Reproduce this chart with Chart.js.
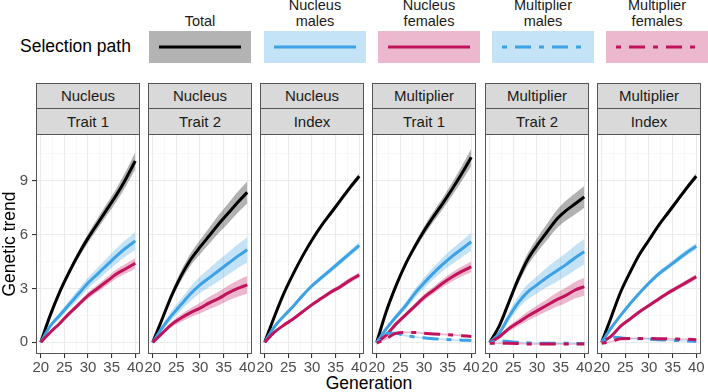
<!DOCTYPE html>
<html>
<head>
<meta charset="utf-8">
<script src="https://cdn.jsdelivr.net/npm/chart.js@4.4.1/dist/chart.umd.min.js"></script>
<style>
  body { margin: 0; background: #fff; font-family: 'Liberation Sans', Arial, sans-serif; }
  #wrap { position: relative; width: 708px; height: 392px; overflow: hidden; }
  .abs { position: absolute; }
  .strip { position: absolute; box-sizing: border-box; border: 1px solid #555; background: #D9D9D9;
           color: #1A1A1A; font-size: 15px; text-align: center; }
  .keylab { position: absolute; width: 102px; text-align: center; font-size: 14.5px; line-height: 16px; color: #1A1A1A; }
  canvas { position: absolute; }
</style>
</head>
<body>
<div id="wrap">
  <div class="abs" style="left:20px;top:36px;font-size:17.5px;color:#000;">Selection path</div>
  <div class="abs" style="left:0;width:738px;top:373px;text-align:center;font-size:17.5px;color:#000;">Generation</div>
</div>
<script>
// data
const generations = [20, 22, 24, 26, 28, 30, 32, 34, 36, 38, 40];
const stripTop = ['Nucleus', 'Nucleus', 'Nucleus', 'Multiplier', 'Multiplier', 'Multiplier'];
const stripBottom = ['Trait 1', 'Trait 2', 'Index', 'Trait 1', 'Trait 2', 'Index'];
const pathNames = [['Total'], ['Nucleus', 'males'], ['Nucleus', 'females'], ['Multiplier', 'males'], ['Multiplier', 'females']];
const yMajorTicks = [0, 3, 6, 9];
const yMinorTicks = [1.5, 4.5, 7.5, 10.5];
const xMajorTicks = [20, 25, 30, 35, 40];
const xMinorTicks = [22.5, 27.5, 32.5, 37.5];

const totalTrend = [
  [0, 1.5, 2.8, 3.9, 4.9, 5.8, 6.6, 7.4, 8.2, 9.1, 10.1],
  [0, 1.3, 2.6, 3.7, 4.6, 5.3, 5.95, 6.6, 7.2, 7.8, 8.35],
  [0, 1.4, 2.7, 3.8, 4.8, 5.7, 6.5, 7.2, 7.9, 8.6, 9.25],
  [0, 1.7, 3.1, 4.3, 5.3, 6.2, 7.0, 7.75, 8.55, 9.4, 10.3],
  [0, 0.9, 2.2, 3.5, 4.6, 5.4, 6.1, 6.8, 7.3, 7.7, 8.1],
  [0, 1.4, 2.8, 3.9, 4.9, 5.7, 6.5, 7.2, 7.9, 8.6, 9.25]
];
const nucleusMales = [
  [0, 0.9, 1.5, 2.1, 2.7, 3.3, 3.8, 4.3, 4.8, 5.25, 5.65],
  [0, 0.8, 1.5, 2.1, 2.7, 3.2, 3.6, 4.0, 4.4, 4.8, 5.15],
  [0, 0.85, 1.45, 2.0, 2.6, 3.15, 3.6, 4.05, 4.5, 4.95, 5.4],
  [0, 0.75, 1.4, 2.0, 2.7, 3.3, 3.85, 4.35, 4.8, 5.2, 5.6],
  [0, 0.5, 1.4, 2.2, 2.8, 3.2, 3.6, 3.95, 4.3, 4.7, 5.05],
  [0, 0.8, 1.5, 2.15, 2.75, 3.3, 3.8, 4.2, 4.6, 5.0, 5.35]
];
const nucleusFemales = [
  [0, 0.55, 1.05, 1.6, 2.1, 2.6, 3.0, 3.4, 3.8, 4.1, 4.4],
  [0, 0.5, 1.0, 1.35, 1.65, 1.9, 2.2, 2.45, 2.75, 3.0, 3.2],
  [0, 0.55, 0.95, 1.3, 1.7, 2.1, 2.45, 2.8, 3.1, 3.45, 3.75],
  [0, 0.4, 1.0, 1.5, 2.0, 2.5, 2.9, 3.3, 3.65, 3.95, 4.2],
  [0, 0.3, 0.75, 1.1, 1.45, 1.75, 2.05, 2.35, 2.6, 2.9, 3.1],
  [0, 0.35, 0.9, 1.3, 1.7, 2.05, 2.4, 2.75, 3.05, 3.35, 3.65]
];
const multiplierMales = [
  null, null, null,
  [0, 0.5, 0.5, 0.38, 0.3, 0.25, 0.2, 0.17, 0.14, 0.12, 0.1],
  [0, 0.08, 0.05, 0, -0.03, -0.05, -0.05, -0.05, -0.05, -0.06, -0.06],
  [0, 0.3, 0.25, 0.2, 0.2, 0.17, 0.15, 0.12, 0.1, 0.08, 0.05]
];
const multiplierFemales = [
  null, null, null,
  [-0.05, 0.2, 0.5, 0.55, 0.55, 0.5, 0.47, 0.44, 0.41, 0.37, 0.33],
  [-0.05, -0.05, -0.05, -0.07, -0.1, -0.1, -0.1, -0.09, -0.1, -0.1, -0.1],
  [-0.05, 0.05, 0.2, 0.22, 0.22, 0.22, 0.2, 0.2, 0.18, 0.17, 0.15]
];

// half widths of the shaded bands
const totalSpread = [
  [0, 0.08, 0.12, 0.16, 0.2, 0.25, 0.3, 0.33, 0.37, 0.42, 0.48],
  [0, 0.12, 0.2, 0.28, 0.34, 0.4, 0.45, 0.5, 0.55, 0.58, 0.62],
  [0, 0.04, 0.06, 0.08, 0.1, 0.11, 0.12, 0.13, 0.14, 0.15, 0.16],
  [0, 0.08, 0.12, 0.16, 0.2, 0.24, 0.28, 0.32, 0.36, 0.42, 0.48],
  [0, 0.1, 0.18, 0.26, 0.33, 0.4, 0.45, 0.5, 0.55, 0.58, 0.6],
  [0, 0.04, 0.06, 0.08, 0.1, 0.11, 0.12, 0.13, 0.14, 0.15, 0.16]
];
const nucleusMalesSpread = [
  [0, 0.12, 0.18, 0.22, 0.27, 0.3, 0.34, 0.38, 0.42, 0.46, 0.5],
  [0, 0.15, 0.25, 0.32, 0.4, 0.46, 0.52, 0.58, 0.62, 0.66, 0.7],
  [0, 0.05, 0.07, 0.09, 0.11, 0.13, 0.14, 0.15, 0.16, 0.17, 0.18],
  [0, 0.1, 0.15, 0.2, 0.25, 0.3, 0.34, 0.38, 0.42, 0.46, 0.5],
  [0, 0.15, 0.25, 0.35, 0.42, 0.48, 0.54, 0.6, 0.64, 0.68, 0.7],
  [0, 0.05, 0.07, 0.09, 0.11, 0.13, 0.14, 0.15, 0.16, 0.17, 0.18]
];
const nucleusFemalesSpread = [
  [0, 0.06, 0.1, 0.12, 0.15, 0.18, 0.2, 0.22, 0.25, 0.27, 0.3],
  [0, 0.1, 0.15, 0.2, 0.25, 0.3, 0.34, 0.38, 0.42, 0.46, 0.5],
  [0, 0.04, 0.05, 0.07, 0.08, 0.1, 0.11, 0.12, 0.13, 0.14, 0.15],
  [0, 0.06, 0.1, 0.12, 0.15, 0.18, 0.2, 0.22, 0.25, 0.27, 0.3],
  [0, 0.1, 0.15, 0.2, 0.25, 0.3, 0.34, 0.38, 0.42, 0.46, 0.5],
  [0, 0.04, 0.05, 0.07, 0.08, 0.1, 0.11, 0.12, 0.13, 0.14, 0.15]
];
const multiplierMalesSpread = [
  null, null, null,
  [0, 0.06, 0.06, 0.05, 0.05, 0.05, 0.05, 0.05, 0.05, 0.05, 0.05],
  [0, 0.04, 0.04, 0.04, 0.04, 0.04, 0.04, 0.04, 0.04, 0.04, 0.04],
  [0, 0.04, 0.04, 0.04, 0.04, 0.04, 0.04, 0.04, 0.04, 0.04, 0.04]
];
const multiplierFemalesSpread = [
  null, null, null,
  [0, 0.06, 0.06, 0.05, 0.05, 0.05, 0.05, 0.05, 0.05, 0.05, 0.05],
  [0, 0.04, 0.04, 0.04, 0.04, 0.04, 0.04, 0.04, 0.04, 0.04, 0.04],
  [0, 0.04, 0.04, 0.04, 0.04, 0.04, 0.04, 0.04, 0.04, 0.04, 0.04]
];

const series = [totalTrend, nucleusMales, nucleusFemales, multiplierMales, multiplierFemales];
const spreads = [totalSpread, nucleusMalesSpread, nucleusFemalesSpread, multiplierMalesSpread, multiplierFemalesSpread];

// look
const BLUE = '#3DA1E6', RED = '#C0135C';
const dotdash = [5, 8, 16, 8];
const pathStyles = [
  { color: '#000000', band: 'rgba(0,0,0,0.3)', key: '#B3B3B3', dash: [] },
  { color: BLUE, band: 'rgba(61,161,230,0.3)', key: '#C5E3F7', dash: [] },
  { color: RED, band: 'rgba(192,19,92,0.3)', key: '#ECB8CE', dash: [] },
  { color: BLUE, band: 'rgba(61,161,230,0.3)', key: '#C5E3F7', dash: dotdash },
  { color: RED, band: 'rgba(192,19,92,0.3)', key: '#ECB8CE', dash: dotdash }
];
const FONT = "'Liberation Sans', Arial, sans-serif";
const panelLeft = [36, 148, 260, 372, 485, 597];
const panelW = 104, plotTop = 134, plotH = 220, xAxisH = 30;
const keyLeft = [149, 264, 378, 492, 606];

const wrap = document.getElementById('wrap');

// legend keys
pathNames.forEach((lines, i) => {
  const st = pathStyles[i];
  const lab = document.createElement('div');
  lab.className = 'keylab';
  lab.style.left = keyLeft[i] + 'px';
  lab.style.top = (29 - lines.length * 16) + 'px';
  lab.innerHTML = lines.join('<br>');
  wrap.appendChild(lab);
  const key = document.createElement('div');
  key.className = 'abs';
  key.style.left = keyLeft[i] + 'px';
  key.style.top = '31px';
  key.innerHTML = '<svg width="102" height="32"><rect width="102" height="32" fill="' + st.key + '"/>' +
    '<line x1="10" y1="16" x2="92" y2="16" stroke="' + st.color + '" stroke-width="3"' +
    (st.dash.length ? ' stroke-dasharray="' + st.dash.join(' ') + '"' : '') + '/></svg>';
  wrap.appendChild(key);
});

// strips
panelLeft.forEach((left, p) => {
  [[stripTop[p], 83, 26], [stripBottom[p], 108, 27]].forEach(([txt, top, h]) => {
    const d = document.createElement('div');
    d.className = 'strip';
    d.style.left = left + 'px';
    d.style.top = top + 'px';
    d.style.width = panelW + 'px';
    d.style.height = h + 'px';
    d.style.lineHeight = (h - 2) + 'px';
    d.textContent = txt;
    wrap.appendChild(d);
  });
});

const panelBorder = {
  id: 'panelBorder',
  afterDatasetsDraw(chart) {
    const { ctx, chartArea: a } = chart;
    ctx.save();
    ctx.strokeStyle = '#555';
    ctx.lineWidth = 1;
    ctx.strokeRect(a.left + 0.5, a.top + 0.5, a.right - a.left - 1, a.bottom - a.top - 1);
    ctx.restore();
  }
};

const isMajor = (list, c) => c.tick && list.includes(c.tick.value);

function buildDatasets(p) {
  const lines = [], bands = [];
  series.forEach((s, k) => {
    const vals = s[p];
    if (!vals) return;
    const sp = spreads[k][p];
    const st = pathStyles[k];
    lines.push({
      data: generations.map((g, i) => ({ x: g, y: vals[i] })),
      borderColor: st.color, borderWidth: 3, borderDash: st.dash, borderCapStyle: 'butt',
      pointRadius: 0, fill: false, cubicInterpolationMode: 'monotone', order: 5 - k
    });
    bands.push({
      data: generations.map((g, i) => ({ x: g, y: vals[i] + sp[i] })),
      borderWidth: 0, pointRadius: 0, backgroundColor: st.band, fill: '+1',
      cubicInterpolationMode: 'monotone', order: 20
    });
    bands.push({
      data: generations.map((g, i) => ({ x: g, y: vals[i] - sp[i] })),
      borderWidth: 0, pointRadius: 0, fill: false, cubicInterpolationMode: 'monotone', order: 20
    });
  });
  return lines.concat(bands);
}

panelLeft.forEach((left, p) => {
  const padL = p === 0 ? 0 : 12;
  const yW = p === 0 ? 36 : 0;
  const canvas = document.createElement('canvas');
  canvas.width = padL + yW + panelW + 12;
  canvas.height = 1 + plotH + xAxisH;
  canvas.style.left = (left - padL - yW) + 'px';
  canvas.style.top = (plotTop - 1) + 'px';
  wrap.appendChild(canvas);

  new Chart(canvas.getContext('2d'), {
    type: 'line',
    data: { datasets: buildDatasets(p) },
    plugins: [panelBorder],
    options: {
      responsive: false, animation: false, devicePixelRatio: 1,
      layout: { padding: { top: 1, left: padL, right: 12, bottom: 0 } },
      plugins: { legend: { display: false }, tooltip: { enabled: false } },
      scales: {
        x: {
          type: 'linear', min: 19, max: 41,
          afterBuildTicks: s => { s.ticks = xMajorTicks.concat(xMinorTicks).sort((a, b) => a - b).map(v => ({ value: v })); },
          afterFit: s => { s.height = xAxisH; s.paddingLeft = 0; s.paddingRight = 0; },
          border: { display: false },
          grid: {
            color: c => isMajor(xMajorTicks, c) ? '#EBEBEB' : '#F4F4F4',
            lineWidth: c => isMajor(xMajorTicks, c) ? 1.1 : 0.6,
            tickLength: 4,
            tickColor: c => isMajor(xMajorTicks, c) ? '#333' : 'rgba(0,0,0,0)'
          },
          ticks: {
            autoSkip: false, maxRotation: 0, minRotation: 0, padding: 1, color: '#4D4D4D',
            font: { size: 15, family: FONT },
            callback: v => xMajorTicks.includes(v) ? String(v) : ''
          }
        },
        y: {
          type: 'linear', min: -0.65, max: 11.6,
          afterBuildTicks: s => { s.ticks = yMajorTicks.concat(yMinorTicks).sort((a, b) => a - b).map(v => ({ value: v })); },
          afterFit: s => { s.width = yW; s.paddingTop = 0; s.paddingBottom = 0; },
          border: { display: false },
          title: {
            display: p === 0, text: 'Genetic trend', color: '#000',
            font: { size: 17.5, family: FONT }, padding: { top: 0, bottom: 0 }
          },
          grid: {
            color: c => isMajor(yMajorTicks, c) ? '#EBEBEB' : '#F4F4F4',
            lineWidth: c => isMajor(yMajorTicks, c) ? 1.1 : 0.6,
            drawTicks: p === 0, tickLength: 4,
            tickColor: c => isMajor(yMajorTicks, c) ? '#333' : 'rgba(0,0,0,0)'
          },
          ticks: {
            display: p === 0, autoSkip: false, padding: 4, color: '#4D4D4D',
            font: { size: 15, family: FONT },
            callback: v => yMajorTicks.includes(v) ? String(v) : ''
          }
        }
      }
    }
  });
});
</script>
</body>
</html>
